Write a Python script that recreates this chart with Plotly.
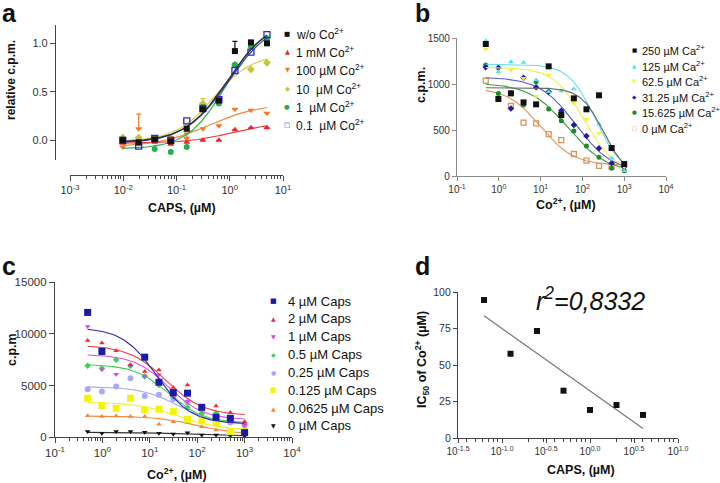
import numpy as np
import plotly.graph_objects as go

# ======================= DATA =======================
# ---- panel a : CAPS dose response with Co2+ ----
caps_a = [0.0098, 0.0195, 0.039, 0.078, 0.156, 0.3125, 0.625, 1.25, 2.5, 5.0]
a_labels = ["w/o Co<sup>2+</sup>", "1 mM Co<sup>2+</sup>", "100 µM Co<sup>2+</sup>",
            "10 \u00a0µM Co<sup>2+</sup>", "1 \u00a0µM Co<sup>2+</sup>", "0.1 \u00a0µM Co<sup>2+</sup>"]
a_wo   = [0.00, -0.02, 0.01, -0.01, 0.12, 0.32, 0.41, 0.92, 1.01, 1.00]
a_1mM  = [-0.03, -0.02, -0.02, -0.04, -0.02, 0.00, 0.00, 0.11, 0.13, 0.13]
a_100u = [-0.07, 0.12, 0.00, 0.03, 0.02, 0.12, 0.15, 0.32, 0.31, 0.28]
a_10u  = [0.03, 0.03, 0.00, 0.02, 0.09, 0.38, 0.44, 0.78, 0.73, 0.80]
a_1u   = [0.01, -0.03, -0.09, -0.12, -0.07, 0.34, 0.38, 0.78, 0.97, 1.05]
a_01u  = [0.00, -0.06, 0.02, 0.00, 0.20, 0.33, 0.42, 0.72, 0.91, 1.09]
a_err_wo   = [0, 0, 0, 0, 0, 0, 0, 0.10, 0, 0]
a_err_1mM  = [0, 0, 0, 0.03, 0, 0, 0, 0, 0, 0]
a_err_100u = [0, 0.15, 0, 0, 0.05, 0, 0, 0, 0, 0]
a_err_10u  = [0, 0, 0, 0, 0, 0.05, 0, 0, 0, 0]
# fitted 4PL parameters: bottom, top, EC50, Hill
a_fit_wo   = [-0.02, 1.25, 0.90, 1.10]
a_fit_1mM  = [-0.03, 0.18, 1.00, 1.10]
a_fit_100u = [-0.07, 0.38, 0.40, 0.90]
a_fit_10u  = [-0.01, 0.89, 0.50, 1.20]
a_fit_1u   = [-0.09, 1.22, 0.85, 1.20]
a_fit_01u  = [-0.03, 1.25, 0.95, 1.05]

# ---- panel b : Co2+ inhibition at several Ca2+ ----
co_b = [0.488, 0.977, 1.95, 3.91, 7.81, 15.6, 31.25, 62.5, 125, 250, 500, 1000]
b_labels = ["250 µM Ca<sup>2+</sup>", "125 µM Ca<sup>2+</sup>", "62.5 µM Ca<sup>2+</sup>",
            "31.25 µM Ca<sup>2+</sup>", "15.625 µM Ca<sup>2+</sup>", "0 µM Ca<sup>2+</sup>"]
b_250 = [1435, 837, 898, 800, 779, 1192, 663, 844, 725, 877, 304, 130]
b_125 = [1471, 1134, 1243, 1235, 1043, 917, 924, 946, 735, 562, 192, 58]
b_62  = [1377, 1116, 1150, 1062, 870, 1098, 930, 790, 620, 464, 190, 100]
b_31  = [1181, 1177, 735, 1069, 964, 917, 710, 554, 435, 301, 138, 100]
b_15  = [1206, 898, 906, 772, 1025, 728, 601, 489, 326, 203, 83, 58]
b_0   = [1036, None, 761, 580, 572, 456, 391, 239, 167, 109, 101, None]
# fitted parameters: bottom, top, IC50, Hill (negative = decreasing)
b_fit_250 = [0, 960, 320, -1.6]
b_fit_125 = [30, 1215, 200, -1.4]
b_fit_62  = [40, 1180, 110, -1.2]
b_fit_31  = [40, 1075, 70, -1.0]
b_fit_15  = [40, 1010, 45, -0.95]
b_fit_0   = [115, 960, 10, -1.1]

# ---- panel c : Co2+ inhibition at several CAPS ----
co_c = [0.488, 0.977, 1.95, 3.91, 7.81, 15.6, 31.25, 62.5, 125, 250, 500, 1000]
c_labels = ["4 µM Caps", "2 µM Caps", "1 µM Caps", "0.5 µM Caps", "0.25 µM Caps",
            "0.125 µM Caps", "0.0625 µM Caps", "0 µM Caps"]
c_4     = [12060, 8290, None, None, 7740, 5320, 4320, 4260, 2900, 1930, 1840, 450]
c_2     = [9350, 9100, 8350, 7000, 6350, 6500, 4800, 5060, 2970, 3030, 2390, 1510]
c_1     = [10710, 6520, 6100, 6900, 5930, 6030, 3930, 3450, 2800, 2160, 1670, 1190]
c_05    = [6900, 6680, 7480, 6900, 5870, 5060, 3930, 2870, 2300, 2320, 1740, 1290]
c_025   = [4640, 4420, 4900, 5710, 4000, 4100, 3710, 3380, 2640, 2160, 1420, 1130]
c_0125  = [3770, 3060, 2800, 3770, 2640, 2710, 2480, 1740, 1580, 1420, 550, 550]
c_00625 = [2090, 2000, 2060, 2000, 2000, 1250, 1510, 1450, 1030, 710, 380, 320]
c_0     = [550, 380, 550, 550, 480, 380, 320, 450, 220, 220, 160, 130]
c_fit_4     = [1300, 10600, 14, -1.2]
c_fit_2     = [2100, 8900, 22, -1.1]
c_fit_1     = [1700, 8000, 25, -1.2]
c_fit_05    = [1400, 7050, 25, -1.2]
c_fit_025   = [1200, 4900, 40, -1.1]
c_fit_0125  = [700, 3400, 40, -1.0]
c_fit_00625 = [250, 2050, 100, -1.0]
c_fit_0     = [150, 480, 50, -1.0]

# ---- panel d : IC50 vs CAPS ----
caps_d = [0.0625, 0.125, 0.25, 0.5, 1, 2, 4]
ic50_d = [94.5, 57.7, 73.3, 32.4, 19.2, 22.6, 15.8]
r2_text = "r<sup>2</sup>=0,8332"

# tick labels
a_xticks = [1e-3, 1e-2, 1e-1, 1, 10]
a_xticktext = ["10<sup>-3</sup>", "10<sup>-2</sup>", "10<sup>-1</sup>", "10<sup>0</sup>", "10<sup>1</sup>"]
a_yticks = [0, 0.5, 1.0]
a_yticktext = ["0.0", "0.5", "1.0"]
bc_xticks = [1e-1, 1, 10, 100, 1000, 10000]
bc_xticktext = ["10<sup>-1</sup>", "10<sup>0</sup>", "10<sup>1</sup>", "10<sup>2</sup>",
                "10<sup>3</sup>", "10<sup>4</sup>"]
b_yticks = [0, 500, 1000, 1500]
c_yticks = [0, 5000, 10000, 15000]
c_yticktext = ["0", "5000", "10000", "15000"]
d_xticks = [10 ** -1.5, 0.1, 10 ** -0.5, 1, 10 ** 0.5, 10]
d_xticktext = ["10<sup>-1.5</sup>", "10<sup>-1.0</sup>", "10<sup>-0.5</sup>", "10<sup>0.0</sup>",
               "10<sup>0.5</sup>", "10<sup>1.0</sup>"]
d_yticks = [0, 25, 50, 75, 100]

# ======================= HELPERS =======================
W, H = 720, 483
FONT = "Liberation Sans, Arial, Helvetica, sans-serif"
SYMF = "DejaVu Sans"


def fx(p):
    return p / W


def fy(p):
    return 1 - p / H


def fourpl(x, p):
    b, t, ec, h = p
    x = np.asarray(x, dtype=float)
    return b + (t - b) / (1 + (ec / x) ** h)


def curve_x(xs):
    return np.logspace(np.log10(min(xs)), np.log10(max(xs)), 200)


fig = go.Figure()
annotations = []


def ann(text, x, y, size, xanchor="center", yanchor="middle", angle=0, color="#111",
        family=FONT):
    annotations.append(dict(text=text, x=fx(x), y=fy(y), xref="paper", yref="paper",
                            showarrow=False, xanchor=xanchor, yanchor=yanchor,
                            textangle=angle, font=dict(size=size, color=color, family=family)))


def add_series(xs, ys, fit, name, color, symbol, size, lcolor, xa, ya, err=None, lw=1.2):
    cx = curve_x(xs)
    fig.add_trace(go.Scatter(x=cx, y=fourpl(cx, fit), mode="lines", xaxis=xa, yaxis=ya,
                             line=dict(color=lcolor, width=lw), showlegend=False,
                             hoverinfo="skip"))
    kw = {}
    if err is not None:
        kw["error_y"] = dict(type="data", symmetric=False, array=err, arrayminus=[0] * len(err),
                             color=color, thickness=1.2, width=2.5)
    fig.add_trace(go.Scatter(x=xs, y=ys, mode="markers", name=name, xaxis=xa, yaxis=ya,
                             showlegend=False, cliponaxis=False,
                             marker=dict(color=color, symbol=symbol, size=size,
                                         line=dict(width=1.3 if "open" in symbol else 0,
                                                   color=color)), **kw))


# ======================= PANEL A =======================
a_series = [
    (a_wo, a_fit_wo, "#111111", "square", "#2a2a2a", a_err_wo),
    (a_1mM, a_fit_1mM, "#e8262a", "triangle-up", "#e84040", a_err_1mM),
    (a_100u, a_fit_100u, "#f47a2a", "triangle-down", "#f08a40", a_err_100u),
    (a_10u, a_fit_10u, "#c8c43a", "diamond", "#d6d24a", a_err_10u),
    (a_1u, a_fit_1u, "#22b04a", "circle", "#2ab04c", None),
    (a_01u, a_fit_01u, "#2a2ad0", "square-open", "#3535c0", None),
]
for i in [3, 2, 1, 4, 5, 0]:
    ys, fit, col, sym, lcol, err = a_series[i]
    add_series(caps_a, ys, fit, a_labels[i], col, sym, 6, lcol, "x", "y", err)

# ======================= PANEL B =======================
b_series = [
    (b_250, b_fit_250, "#111111", "square", "#666666", 6),
    (b_125, b_fit_125, "#4ee2f2", "triangle-up", "#5fe0f0", 5),
    (b_62, b_fit_62, "#f2f23a", "triangle-down", "#eeee50", 5),
    (b_31, b_fit_31, "#1e1e9c", "diamond", "#5a5ac8", 5),
    (b_15, b_fit_15, "#1e8a2c", "circle", "#3c9a44", 5),
    (b_0, b_fit_0, "#d8955e", "square-open", "#e0945a", 5),
]
for i in [5, 4, 3, 2, 1, 0]:
    ys, fit, col, sym, lcol, sz = b_series[i]
    add_series(co_b, ys, fit, b_labels[i], col, sym, sz, lcol, "x2", "y2", None, 1.1)

# ======================= PANEL C =======================
c_series = [
    (c_4, c_fit_4, "#1a1aa8", "square", "#2a2ab0", 7),
    (c_2, c_fit_2, "#e83030", "triangle-up", "#e84040", 5),
    (c_1, c_fit_1, "#e040e8", "triangle-down", "#e050e8", 5),
    (c_05, c_fit_05, "#40d050", "diamond", "#40d050", 5),
    (c_025, c_fit_025, "#a6aaf2", "circle", "#a6aaf2", 6),
    (c_0125, c_fit_0125, "#f5f500", "square", "#f0f020", 7),
    (c_00625, c_fit_00625, "#f08a40", "triangle-up", "#f08a40", 5),
    (c_0, c_fit_0, "#111111", "triangle-down", "#333333", 5),
]
for i in [7, 6, 5, 4, 3, 2, 1, 0]:
    ys, fit, col, sym, lcol, sz = c_series[i]
    add_series(co_c, ys, fit, c_labels[i], col, sym, sz, lcol, "x3", "y3", None, 1.1)

# ======================= PANEL D =======================
lx = np.log10(caps_d)
slope, icpt = np.polyfit(lx, ic50_d, 1)
fx_line = np.array([min(caps_d), max(caps_d)])
fig.add_trace(go.Scatter(x=fx_line, y=icpt + slope * np.log10(fx_line), mode="lines",
                         xaxis="x4", yaxis="y4", line=dict(color="#777777", width=1.2),
                         showlegend=False, hoverinfo="skip"))
fig.add_trace(go.Scatter(x=caps_d, y=ic50_d, mode="markers", xaxis="x4", yaxis="y4",
                         marker=dict(color="#111111", symbol="square", size=6),
                         showlegend=False, cliponaxis=False))


# ======================= AXES =======================
def minor_vals(lo, hi):
    out = []
    for n in range(int(np.floor(lo)) - 1, int(np.ceil(hi)) + 1):
        for k in range(2, 10):
            v = k * 10.0 ** n
            if 10 ** lo < v < 10 ** hi:
                out.append(v)
    return out


def axstyle(size, color="#333", tl=5, lw=1.2, lcolor="#444"):
    return dict(showline=True, linecolor=lcolor, linewidth=lw, ticks="outside", ticklen=tl,
                tickwidth=1, tickcolor=lcolor, showgrid=False, zeroline=False,
                automargin=False, title=dict(text=""),
                tickfont=dict(size=size, color=color, family=FONT), fixedrange=True)


layout_axes = dict(
    xaxis=dict(axstyle(11), type="log", domain=[fx(70), fx(283)], range=[-3, 1],
               anchor="free", position=fy(175), tickmode="array", tickvals=a_xticks,
               ticktext=a_xticktext,
               minor=dict(tickmode="array", tickvals=minor_vals(-3, 1), ticks="outside",
                          ticklen=3, tickcolor="#444")),
    yaxis=dict(axstyle(11), domain=[fy(160), fy(25)], range=[-0.203, 1.189], anchor="free",
               position=fx(55), tickmode="array", tickvals=a_yticks, ticktext=a_yticktext),
    xaxis2=dict(axstyle(10, tl=4, lcolor="#8a8a8a"), type="log", domain=[fx(457), fx(666)],
                range=[-1, 4], anchor="y2", tickmode="array", tickvals=bc_xticks,
                ticktext=bc_xticktext),
    yaxis2=dict(axstyle(10, tl=4, lcolor="#8a8a8a"), domain=[fy(176), fy(38)], range=[0, 1500],
                anchor="x2", tickmode="array", tickvals=b_yticks,
                ticktext=[str(v) for v in b_yticks]),
    xaxis3=dict(axstyle(11.5), type="log", domain=[fx(55), fx(292)], range=[-1, 4],
                anchor="y3", tickmode="array", tickvals=bc_xticks, ticktext=bc_xticktext,
                minor=dict(tickmode="array", tickvals=minor_vals(-1, 4), ticks="outside",
                           ticklen=3, tickcolor="#444")),
    yaxis3=dict(axstyle(11.5), domain=[fy(437.3), fy(282)], range=[0, 15000], anchor="x3",
                tickmode="array", tickvals=c_yticks, ticktext=c_yticktext),
    xaxis4=dict(axstyle(10, tl=4), type="log", domain=[fx(458), fx(678)], range=[-1.5, 1.0],
                anchor="y4", tickmode="array", tickvals=d_xticks, ticktext=d_xticktext,
                minor=dict(tickmode="array", tickvals=minor_vals(-1.5, 1.0), ticks="outside",
                           ticklen=2.5, tickcolor="#444")),
    yaxis4=dict(axstyle(10.5, tl=4), domain=[fy(438), fy(292)], range=[0, 100], anchor="x4",
                tickmode="array", tickvals=d_yticks, ticktext=[str(v) for v in d_yticks]),
)

# ======================= TEXT =======================
ann("<b>a</b>", 0, -3, 25, xanchor="left", yanchor="top")
ann("<b>b</b>", 413, -3, 25, xanchor="left", yanchor="top")
ann("<b>c</b>", 0, 250, 25, xanchor="left", yanchor="top")
ann("<b>d</b>", 413, 250, 25, xanchor="left", yanchor="top")

ann("<b>relative c.p.m.</b>", 11, 80, 12, angle=-90)
ann("<b>CAPS, (µM)</b>", 182, 208, 12.5)
ann("<b>c.p.m.</b>", 421, 85, 12.5, angle=-90)
ann("<b>Co<sup>2+</sup>, (µM)</b>", 566, 204, 12.5)
ann("<b>c.p.m</b>", 12, 350, 12.5, angle=-90)
ann("<b>Co<sup>2+</sup>, (µM)</b>", 177, 474, 12.5)
ann("<b>IC<sub>50</sub> of Co<sup>2+</sup> (µM)</b>", 422, 360, 12.5, angle=-90)
ann("<b>CAPS, (µM)</b>", 581, 470, 12.5)
ann("<i>" + r2_text + "</i>", 590, 299, 25)

glyph = {"square": "■", "triangle-up": "▲", "triangle-down": "▼", "diamond": "◆",
         "circle": "●", "square-open": "□"}


def legend(series, labels, sx, tx, y0, dy, gsize, tsize, glyph_sizes=None):
    for i, s in enumerate(series):
        col, sym = s[2], s[3]
        gs = gsize if glyph_sizes is None else glyph_sizes[i]
        ann(glyph[sym], sx, y0 + dy * i, gs, color=col, family=SYMF)
        ann(labels[i], tx, y0 + dy * i, tsize, xanchor="left", color="#111")


legend(a_series, a_labels, 287, 294, 34, 18.2, 6.5, 12)
legend(b_series, b_labels, 634, 640, 50, 15.6, 5.5, 11)
legend(c_series, c_labels, 273, 286, 301, 17.85, 6, 13,
       glyph_sizes=[7, 6, 6, 6, 6, 7, 6, 6])

fig.update_layout(width=W, height=H, margin=dict(l=0, r=0, t=0, b=0, autoexpand=False),
                  paper_bgcolor="white", plot_bgcolor="rgba(0,0,0,0)", showlegend=False,
                  font=dict(family=FONT, color="#111"), annotations=annotations,
                  **layout_axes)

fig.write_html("out.html", config={"displayModeBar": False},
               post_script="document.body.style.margin='0';document.body.style.overflow='hidden';")
